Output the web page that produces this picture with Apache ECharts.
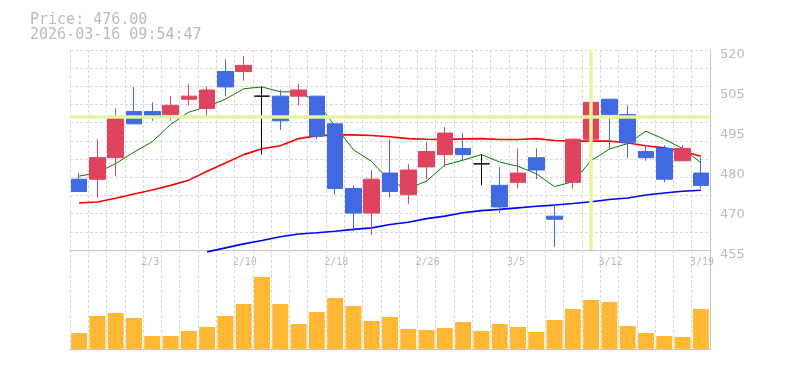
<!DOCTYPE html>
<html>
<head>
<meta charset="utf-8">
<script src="https://cdn.jsdelivr.net/npm/echarts@6/dist/echarts.min.js"></script>
<style>html,body{margin:0;padding:0;background:#fff;}#c{width:785px;height:370px;}</style>
</head>
<body>
<div id="c"></div>
<script>
const dates = ['1/28','1/29','1/30','2/2','2/3','2/4','2/5','2/6','2/9','2/10','2/12','2/13','2/16','2/17','2/18','2/19','2/20','2/24','2/25','2/26','2/27','3/2','3/3','3/4','3/5','3/6','3/9','3/10','3/11','3/12','3/13','3/16','3/17','3/18','3/19'];
const labeledDates = ['2/3','2/10','2/18','2/26','3/5','3/12','3/19'];
const openP  = [478,478,485,500,500,499,504,501,513,513,505,505,505,505,496,475,467,480,473,482,486,488,483,476,477,485,466,477,491,504,499,487,488,484,480];
const closeP = [474,485,498,496,498,502,505,507,508,515,505,497,507,492,475,467,478,474,481,487,493,486,483,469,480,481,465,491,503,499,490,485,478,488,476];
const lowP   = [474,472,479,496,497,497,502,498,505,510,486,494,502,491,473,461,460,472,470,478,482,484,476,467,475,478,456,475,491,488,485,484,477,484,475];
const highP  = [480,491,501,508,503,505,509,508,517,518,508,507,509,505,496,476,481,491,483,490,495,493,486,482,488,488,470,491,505,504,502,489,489,489,485];
const ma5  = [479,480.1,483.1,486.8,490.2,495.8,499.8,501.6,504.0,507.4,508.0,506.4,506.4,503.2,495.2,487.6,483.8,477.2,475.0,477.4,482.6,484.2,486.0,483.6,482.2,479.8,475.6,477.2,484.0,487.8,489.6,493.6,491.0,488.0,483.4];
const ma25 = [470.3,470.6,471.8,473.2,474.5,476.0,477.7,480.6,483.3,486.0,487.9,488.9,491.2,492.1,492.5,492.4,492.2,491.8,491.2,491.0,490.9,491.1,491.2,490.9,490.9,491.2,490.6,490.4,490.4,490.4,489.8,488.9,488.2,487.1,485.5];
const ma75 = [null,null,null,null,null,null,null,454.4,455.7,457.0,458.1,459.3,460.2,460.6,461.1,461.7,462.2,463.3,464.0,465.2,466.0,467.1,467.8,468.2,468.7,469.2,469.6,470.1,470.7,471.4,471.9,472.9,473.5,474.1,474.4];
const volume = [16,33,36,31,13,13,18,22,33,45,72,45,25,37,51,43,28,32,20,19,21,27,18,25,22,17,29,40,49,47,23,16,13,12,40];
const yTickLabels = ['455','470','480','495','505','520'];
const crossDate = '3/11';
const crossPrice = 498.2;
const headerPrice = 'Price: 476.00';
const headerTime = '2026-03-16 09:54:47';

const UP = '#e0435e', DOWN = '#4169e1', DOJI = '#000000';
const GRIDC = '#d9d9d9', AXISC = '#c4c4c4', TXT = '#bbbbbb';

const candleData = dates.map((d, i) => {
  const v = [openP[i], closeP[i], lowP[i], highP[i]];
  if (openP[i] === closeP[i]) {
    return { value: v, itemStyle: { color: DOJI, color0: DOJI, borderColor: DOJI, borderColor0: DOJI } };
  }
  return v;
});

const dashed = { color: GRIDC, type: [3, 2], width: 1 };

const chart = echarts.init(document.getElementById('c'), null, { renderer: 'canvas' });
chart.setOption({
  animation: false,
  backgroundColor: '#fff',
  title: {
    text: headerPrice + '\n' + headerTime,
    left: 25, top: 8,
    textStyle: { fontFamily: 'DejaVu Sans Mono', fontSize: 15, fontWeight: 'normal', color: TXT, lineHeight: 15 }
  },
  grid: [
    { left: 70, top: 50, width: 640, height: 200 },
    { left: 70, top: 250, width: 640, height: 99 }
  ],
  xAxis: [
    { type: 'category', gridIndex: 0, data: dates, boundaryGap: true,
      axisLine: { show: true, lineStyle: { color: AXISC } }, axisTick: { show: false }, axisLabel: { show: false },
      splitLine: { show: true, interval: 0, lineStyle: dashed } },
    { type: 'category', gridIndex: 1, data: dates, boundaryGap: true, position: 'top',
      axisLine: { show: true, lineStyle: { color: AXISC } }, axisTick: { show: false },
      axisLabel: { show: true, inside: true, margin: 7, align: 'left', padding: [0, 0, 0, -11],
        interval: (idx, val) => labeledDates.indexOf(val) >= 0,
        color: TXT, fontFamily: 'DejaVu Sans Mono', fontSize: 10 },
      splitLine: { show: true, interval: 0, lineStyle: dashed } },
    { type: 'category', gridIndex: 1, data: dates, boundaryGap: true, position: 'bottom',
      axisLine: { show: true, lineStyle: { color: AXISC } }, axisTick: { show: false }, axisLabel: { show: false },
      splitLine: { show: false } }
  ],
  yAxis: [
    { type: 'value', gridIndex: 0, position: 'right', min: 455, max: 520, interval: 13,
      axisLine: { show: true, lineStyle: { color: AXISC } }, axisTick: { show: false },
      axisLabel: { show: true, margin: 10, color: TXT, fontFamily: 'DejaVu Sans', fontSize: 13,
        verticalAlign: 'top', lineHeight: 10,
        formatter: (v, i) => yTickLabels[i] },
      splitLine: { show: false } },
    { type: 'value', gridIndex: 0, position: 'left', min: 0, max: 11, interval: 1,
      axisLine: { show: false }, axisTick: { show: false }, axisLabel: { show: false },
      splitLine: { show: true, lineStyle: dashed } },
    { type: 'value', gridIndex: 1, position: 'right', min: 0, max: 99,
      axisLine: { show: true, lineStyle: { color: AXISC } }, axisTick: { show: false }, axisLabel: { show: false },
      splitLine: { show: false } }
  ],
  series: [
    { type: 'line', xAxisIndex: 0, yAxisIndex: 0, data: [], z: 1, silent: true,
      markLine: { silent: true, symbol: ['none', 'none'], label: { show: false },
        lineStyle: { color: '#e3f4a3', width: 3.5, type: 'solid' },
        data: [{ xAxis: crossDate }, { yAxis: crossPrice }] } },
    { type: 'line', xAxisIndex: 0, yAxisIndex: 0, data: ma5, showSymbol: false, symbol: 'none', z: 2,
      lineStyle: { color: '#008000', width: 1 } },
    { type: 'line', xAxisIndex: 0, yAxisIndex: 0, data: ma25, showSymbol: false, symbol: 'none', z: 2,
      lineStyle: { color: '#ff0000', width: 1.6 } },
    { type: 'line', xAxisIndex: 0, yAxisIndex: 0, data: ma75, showSymbol: false, symbol: 'none', z: 2, clip: false,
      lineStyle: { color: '#0000ff', width: 1.6 } },
    { type: 'candlestick', xAxisIndex: 0, yAxisIndex: 0, data: candleData, barWidth: 16, z: 3,
      itemStyle: { color: UP, color0: DOWN, borderColor: UP, borderColor0: DOWN, borderWidth: 1 } },
    { type: 'bar', xAxisIndex: 1, yAxisIndex: 2, data: volume, barWidth: 16,
      itemStyle: { color: '#ffb833' } }
  ]
});
</script>
</body>
</html>
